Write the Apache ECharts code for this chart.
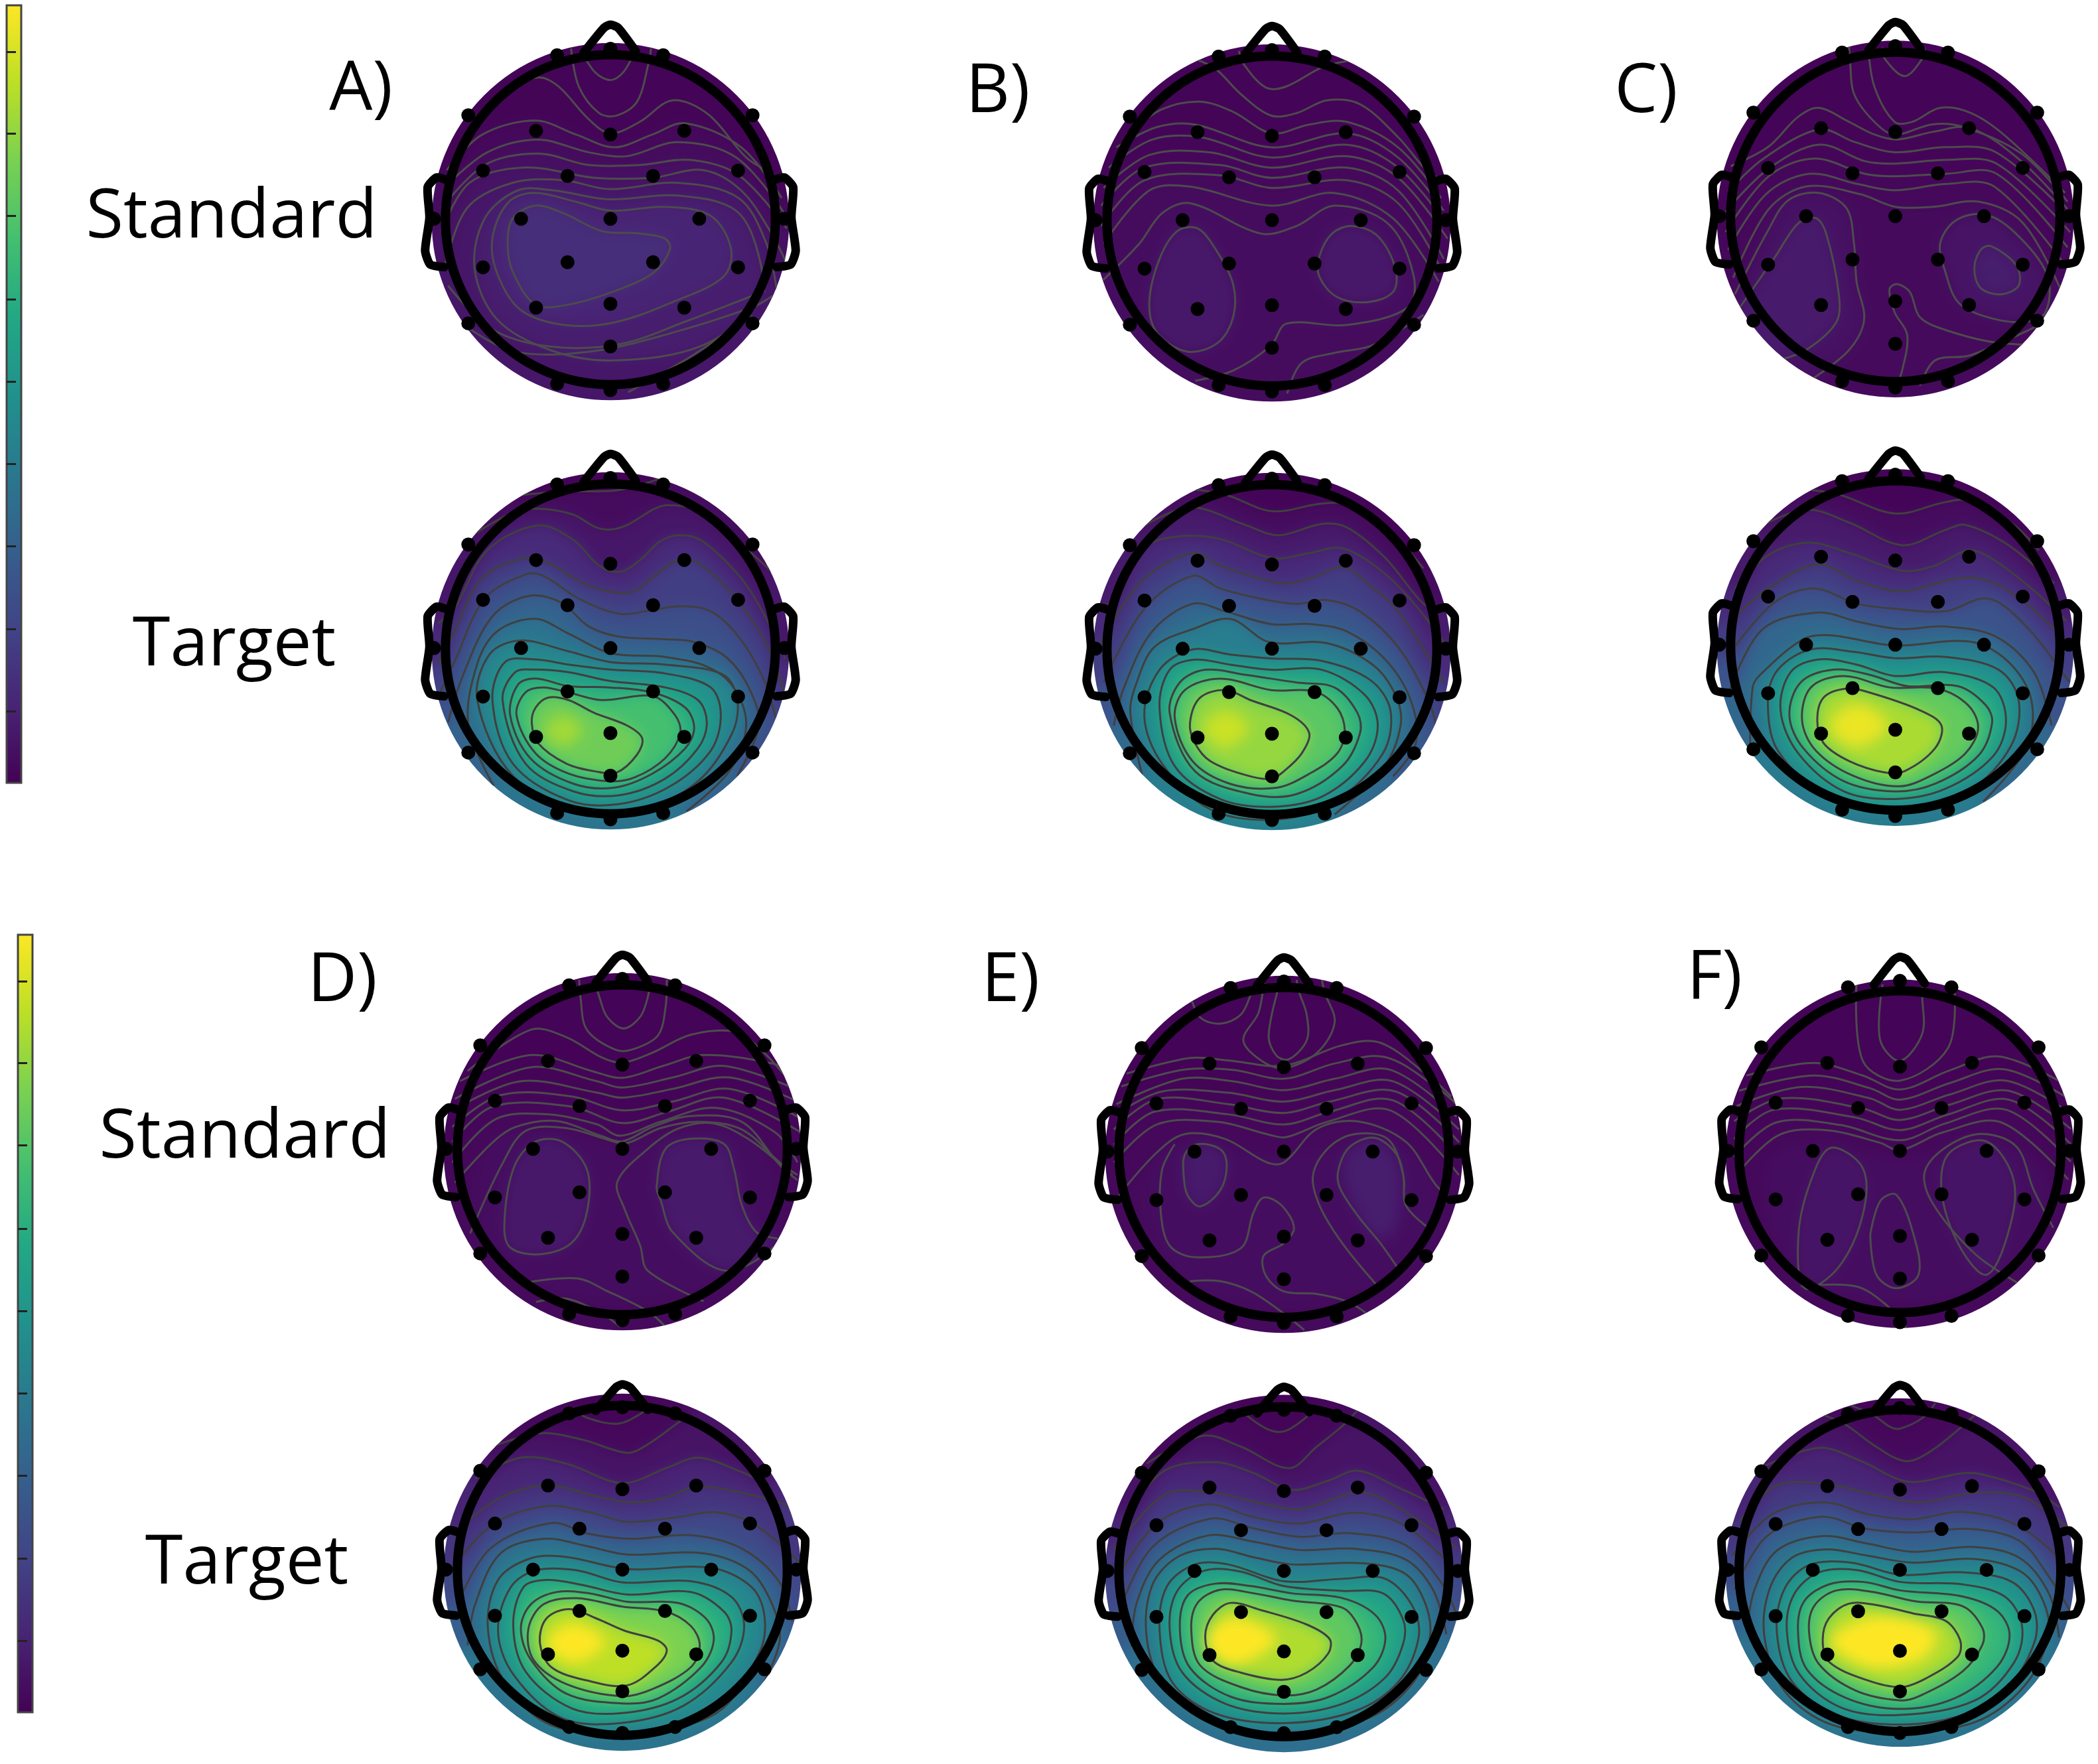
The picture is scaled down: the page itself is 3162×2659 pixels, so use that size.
<!DOCTYPE html>
<html>
<head>
<meta charset="UTF-8">
<title>Topographic maps</title>
<script src="https://cdn.jsdelivr.net/npm/echarts@6/dist/echarts.min.js"></script>
<style>
html,body{margin:0;padding:0;background:#fff}
#chart{width:3162px;height:2659px}
/* the colour fills sit on their own canvas layer, softened into a smooth map */
#chart canvas[data-zr-dom-id="zr_0"]{filter:blur(10px)}
</style>
</head>
<body>
<div id="chart"></div>
<script>
// contour format: [level, x0,y0, x1,y1, ...] in head units (head outline radius = 650)
// level 0 = line only, negative level = fill only (no line)
var targetA = [
  [.03,-400,600,-190,620,0,622,100,640,220,680],
  [.06,-620,400,-400,530,-300,552,-150,530,-60,480,0,470,70,490,170,550,225,566,330,550,470,450,640,300],
  [.12,-680,100,-615,158,-485,388,-285,486,-145,428,-45,328,35,303,115,348,195,423,275,448,365,423,515,278,615,118,690,-40],
  [.18,-680,-60,-620,58,-505,278,-335,358,-245,338,-105,258,15,223,95,228,175,288,275,353,355,333,495,198,625,-2,680,-160],
  [.24,-670,-170,-615,-52,-495,198,-335,293,-265,288,-125,198,35,138,165,153,275,168,395,148,505,48,605,-122,650,-270],
  [.31,-640,-290,-580,-102,-465,128,-325,208,-195,183,-85,88,35,48,215,38,325,28,455,-32,545,-152,585,-302,500,-500],
  [.38,-460,-540,-560,-300,-525,-60,-445,70,-295,118,-165,60,0,-17,215,-32,385,-72,485,-152,535,-302,470,-480,300,-640],
  [.45,-525,-200,-475,-20,-355,33,-165,-10,0,-52,215,-62,445,-102,500,-200,480,-332,345,-522,115,-640,-115,-640,-385,-500],
  [.51,-465,-202,-415,-52,-295,-42,-165,-62,0,-82,215,-97,395,-152,435,-262,395,-402,235,-542,35,-612,-165,-597,-385,-452],
  [.57,-425,-202,-375,-92,-295,-82,-165,-92,0,-127,215,-152,345,-202,380,-292,345,-392,215,-512,35,-577,-145,-562,-335,-452],
  [.63,-395,-262,-365,-142,-295,-117,-165,-147,-5,-152,165,-172,295,-232,330,-312,295,-392,165,-492,15,-547,-145,-532,-315,-432],
  [.70,-370,-262,-335,-172,-265,-152,-165,-172,-35,-202,168,-187,255,-262,275,-332,215,-432,95,-507,-5,-522,-165,-492,-295,-412],
  [.78,-310,-292,-295,-232,-245,-192,-165,-202,-65,-252,65,-302,125,-352,105,-417,25,-487,-65,-482,-175,-452,-285,-372],
  [-.86,-260,-320,-185,-260,-110,-320,-185,-385]
];
var targetB = [
  [.03,-303,630,-183,610,0,545,197,575,297,570,477,450,597,320],
  [.07,-563,450,-423,530,-303,560,-103,490,27,450,197,495,297,480,447,360,597,180,657,160],
  [.12,-653,160,-503,400,-373,445,-203,435,0,360,147,380,267,400,377,350,517,230,677,30],
  [.18,-673,30,-513,270,-313,380,-203,330,-83,290,57,260,177,290,282,325,377,260,497,150,677,-130],
  [.26,-663,-130,-503,160,-313,290,-203,240,-43,200,97,180,217,195,347,150,497,10,617,-200,647,-300],
  [.34,-623,-300,-583,-150,-473,70,-313,180,-183,150,-3,100,157,100,297,70,447,-40,547,-200,567,-370,477,-500],
  [.42,-503,-530,-558,-250,-533,-130,-463,10,-313,80,-163,120,-13,30,217,25,397,-60,487,-180,507,-300,437,-470,247,-650],
  [.50,-503,-260,-443,-80,-313,0,-163,-20,-3,-35,197,-45,387,-120,467,-240,437,-410,247,-600,17,-670,-243,-630,-433,-450],
  [.58,-443,-230,-403,-80,-303,-40,-163,-60,-3,-80,197,-80,367,-180,417,-300,367,-440,197,-580,-3,-620,-203,-590,-383,-460],
  [.66,-403,-250,-363,-130,-263,-80,-103,-100,97,-130,247,-150,337,-250,347,-330,277,-460,97,-570,-83,-570,-303,-480],
  [.74,-383,-270,-343,-160,-203,-115,-3,-160,167,-165,257,-230,287,-320,257,-410,147,-490,17,-545,-163,-530,-313,-440],
  [.84,-323,-290,-283,-190,-183,-160,-83,-200,77,-260,147,-330,117,-410,47,-480,-3,-510,-103,-495,-243,-440,-303,-370],
  [-.92,-270,-310,-183,-240,-90,-310,-183,-390]
];
var targetC = [
  [.03,-353,615,-223,595,0,520,197,565,297,570,467,475,567,375],
  [.07,-563,455,-353,535,-183,485,27,395,197,455,277,475,447,395,627,245],
  [.12,-633,225,-503,355,-343,405,-183,365,27,295,157,315,287,375,377,345,537,225,677,95],
  [.18,-663,85,-503,225,-303,320,-153,255,27,215,247,265,367,255,517,165,687,5],
  [.25,-663,-45,-483,165,-323,225,-153,165,-3,145,197,135,367,185,517,75,687,-145],
  [.33,-653,-175,-523,65,-303,130,-153,95,17,65,197,75,397,35,547,-105,617,-315],
  [.41,-573,-425,-563,-165,-533,-115,-363,25,-253,40,-3,0,297,15,447,-65,537,-215,517,-405,347,-615],
  [.50,-503,-215,-463,-95,-333,-15,-163,-25,-3,-50,197,-45,407,-95,487,-215,457,-395,297,-565,-3,-645,-243,-615,-463,-415],
  [.58,-453,-255,-413,-105,-303,-55,-153,-75,-3,-120,197,-105,387,-165,437,-295,387,-435,197,-565,-3,-605,-203,-575,-383,-425],
  [.67,-418,-275,-373,-145,-243,-95,-103,-115,47,-160,247,-160,357,-235,382,-305,327,-435,157,-545,-3,-575,-203,-535,-363,-405],
  [.76,-368,-295,-333,-165,-203,-120,-23,-165,167,-170,287,-235,327,-325,277,-425,157,-505,17,-555,-163,-515,-313,-415],
  [.87,-308,-295,-283,-205,-193,-170,-103,-185,97,-255,182,-315,157,-405,37,-495,-43,-500,-183,-455,-283,-385],
  [-.97,-260,-315,-153,-230,-30,-315,-153,-400]
];
var targetD = [
  [.02,-180,660,-140,630,-20,605,70,645,100,680],
  [.05,-540,500,-330,565,-160,540,20,485,100,520,220,610,260,640],
  [.10,-580,380,-400,465,-220,440,0,360,180,425,300,465,460,410,560,360],
  [.15,-650,170,-480,300,-293,350,-80,300,40,280,170,300,290,345,470,320,650,270],
  [.22,-670,10,-510,190,-300,265,-130,240,20,200,220,220,370,240,520,190,700,30],
  [.30,-650,-140,-520,90,-280,195,-130,150,40,130,270,145,470,90,620,-50,670,-210],
  [.38,-610,-310,-580,-140,-480,70,-310,130,-140,100,20,65,320,70,500,0,590,-140,620,-290,550,-480],
  [.46,-530,-240,-490,-40,-360,50,-220,55,20,5,350,10,510,-70,560,-190,540,-340,370,-590,20,-670,-280,-640,-460,-470],
  [.54,-490,-250,-440,-70,-340,0,-180,0,0,-50,270,-45,430,-110,480,-230,430,-380,240,-560,0,-630,-240,-610,-430,-430],
  [.62,-430,-230,-390,-70,-300,-40,-160,-60,20,-100,270,-90,400,-170,430,-250,390,-380,220,-530,0,-590,-200,-570,-380,-420],
  [.70,-400,-240,-360,-140,-260,-90,-130,-95,20,-130,220,-135,330,-200,360,-290,310,-400,140,-530,0,-550,-220,-510,-360,-370],
  [.80,-370,-240,-310,-140,-180,-115,0,-150,170,-170,270,-230,305,-310,270,-400,120,-490,0,-520,-220,-470,-350,-370],
  [.90,-325,-300,-300,-200,-210,-160,-100,-200,10,-250,140,-290,175,-330,140,-390,20,-475,-140,-455,-280,-400],
  [-1,-300,-300,-190,-220,-70,-300,-190,-380]
];
var targetE = [
  [.02,-170,670,-70,595,0,583,80,635,130,690],
  [.05,-540,450,-320,565,-170,520,20,430,130,520,230,605,290,670],
  [.10,-620,240,-470,420,-270,455,-120,410,30,340,180,380,290,420,450,350,630,260],
  [.16,-670,90,-470,320,-290,330,-70,280,70,260,290,330,430,280,680,100],
  [.22,-660,-30,-500,200,-300,280,-130,230,60,200,280,245,480,190,690,-10],
  [.29,-650,-170,-520,100,-290,220,-120,180,60,145,260,160,480,110,630,-60,680,-180],
  [.36,-600,-310,-580,-130,-490,50,-300,150,-120,125,60,90,280,95,480,50,590,-80,640,-260],
  [.43,-540,-280,-520,-60,-420,60,-270,95,-120,60,30,30,310,35,480,-10,560,-140,575,-280,510,-460,330,-610,0,-670,-290,-630,-470,-480],
  [.50,-490,-240,-460,-60,-350,30,-220,30,0,-40,230,-30,400,-30,510,-150,530,-280,450,-460,280,-580,0,-630,-270,-590,-440,-460],
  [.58,-450,-240,-420,-80,-310,5,-170,0,0,-60,230,-80,390,-90,470,-200,470,-300,400,-440,230,-550,0,-590,-230,-550,-400,-420],
  [.66,-410,-240,-380,-100,-270,-50,-130,-60,30,-90,230,-110,360,-180,400,-280,350,-400,180,-520,0,-550,-210,-520,-370,-400],
  [.75,-365,-240,-340,-130,-250,-75,-120,-90,30,-120,230,-150,290,-220,305,-300,260,-390,130,-490,0,-515,-170,-480,-330,-390],
  [.88,-310,-270,-280,-180,-210,-130,-90,-160,90,-220,180,-280,175,-340,90,-420,-10,-450,-170,-420,-280,-370],
  [-1,-310,-290,-200,-190,-30,-280,-200,-390]
];
var targetF = [
  [.02,-197,683,-107,643,-37,593,3,588,93,633,143,693],
  [.05,-367,663,-227,608,-97,513,23,453,123,493,253,598,323,663],
  [.10,-567,423,-327,508,-157,453,33,368,253,403,333,398,533,333,643,263],
  [.16,-647,203,-497,353,-297,358,-97,313,83,283,303,323,503,303,683,173],
  [.23,-677,63,-517,233,-307,283,-127,233,53,213,253,243,483,183,693,3],
  [.30,-667,-77,-537,143,-317,223,-137,173,63,158,283,173,483,123,603,-27,693,-177],
  [.37,-617,-237,-587,-77,-497,83,-317,143,-137,113,53,78,293,98,483,53,603,-97,643,-277],
  [.44,-547,-277,-527,-77,-437,53,-297,88,-137,63,53,33,303,48,493,-7,583,-137,598,-277,503,-477,303,-627,3,-667,-277,-637,-467,-497],
  [.51,-497,-257,-467,-77,-367,23,-197,33,0,-17,253,-7,453,-47,543,-167,543,-297,433,-487,253,-597,3,-637,-257,-597,-437,-457],
  [.58,-457,-247,-427,-97,-327,-7,-177,3,3,-47,253,-57,423,-107,493,-227,463,-377,303,-537,3,-597,-237,-567,-407,-427],
  [.66,-412,-247,-387,-127,-287,-57,-147,-47,3,-82,253,-107,393,-167,443,-267,393,-397,223,-527,3,-572,-217,-527,-377,-407],
  [.75,-367,-257,-347,-147,-257,-82,-117,-87,63,-127,253,-147,333,-237,333,-307,253,-417,83,-517,3,-537,-177,-497,-327,-387],
  [.88,-312,-287,-287,-197,-207,-137,-97,-142,53,-177,183,-207,243,-287,233,-357,103,-447,3,-482,-137,-452,-287,-377],
  [-1,-280,-290,-100,-190,140,-250,100,-360,-120,-400]
];
var standardA = [
  [0,-115,665,-60,580,0,550,50,580,90,650],
  [0,-155,675,-125,525,-45,420,25,410,105,465,150,615,160,675],
  [.01,-545,385,-415,505,-285,560,-205,525,-85,395,0,340,115,385,245,470,385,415,535,245,635,185],
  [.02,-645,195,-505,335,-295,390,-135,335,15,285,165,335,295,380,515,285,675,85],
  [.03,-655,125,-485,265,-285,315,-85,265,65,250,265,305,495,245,685,25],
  [.04,-665,45,-495,215,-285,260,-85,215,115,215,315,235,505,175,695,-35],
  [.05,-665,-45,-555,145,-335,205,-65,165,165,165,365,195,515,115,635,-55,695,-175],
  [.06,-655,-195,-565,45,-385,145,-185,155,-5,120,265,145,505,85,615,-95,655,-275],
  [.08,-535,-195,-495,5,-365,115,-225,115,-5,80,265,95,495,35,585,-145,585,-315,365,-495,15,-555,-235,-515,-445,-395],
  [.10,-465,-75,-405,65,-305,105,-135,70,0,35,215,50,395,15,475,-115,445,-225,245,-325,15,-405,-185,-415,-355,-355,-445,-215],
  [.13,-405,-95,-385,5,-295,55,-185,25,-35,-45,115,-55,215,-75,235,-115,175,-205,35,-275,-165,-335,-295,-335,-385,-205],
  [0,-640,-260,-470,-430,-240,-500,40,-490,300,-400,610,-280],
  [0,-570,-420,-380,-520,-80,-520,230,-450,560,-345,640,-300],
  [0,70,-680,300,-550,560,-380]
];
var standardB = [
  [0,-130,670,-113,620,-23,525,57,530,197,605,297,630],
  [0,-310,640,-223,600,-123,500,-3,415,97,425,217,475,347,460,497,330,617,190,660,170],
  [.01,-573,340,-433,440,-283,470,-153,430,0,345,147,380,297,390,497,290,667,90],
  [.012,-613,290,-453,370,-303,380,-3,290,297,345,497,250,677,40],
  [.015,-643,210,-473,320,-283,330,-3,250,297,300,497,210,687,-10],
  [.018,-663,130,-483,260,-243,270,-3,210,297,255,497,170,692,-70],
  [.02,-673,60,-503,210,-203,220,-3,170,297,210,497,120,677,-150],
  [.025,-673,-20,-503,160,-203,180,-3,130,297,160,497,70,667,-190],
  [.03,-663,-90,-483,120,-323,135,-3,60,247,110,477,10,657,-240],
  [.035,-673,-240,-523,-90,-433,30,-323,70,-43,-50,97,-20,247,60,457,-10,557,-210,537,-340,297,-410,57,-405,-3,-490,-153,-590,-303,-630],
  [.065,-483,-320,-443,-150,-373,-40,-293,-30,-223,-110,-153,-250,-153,-380,-213,-480,-333,-515,-453,-440],
  [.065,187,-140,237,-50,317,-20,417,-60,487,-190,477,-280,377,-320,257,-300,187,-220],
  [0,60,-680,117,-560,247,-520,397,-490,597,-370]
];
var standardC = [
  [0,-50,668,-43,625,37,555,107,625,115,670],
  [0,-183,680,-178,605,-163,485,-83,375,-3,325,147,365,267,355,497,250,680,60],
  [0,-108,680,-83,515,-3,375,67,375,177,430,297,410,427,325,670,95],
  [.01,-650,200,-503,275,-383,395,-303,430,-183,375,-83,325,7,305,147,335,297,350,497,220,680,30],
  [.012,-660,100,-520,230,-300,345,-160,295,-3,255,197,275,397,255,690,0],
  [.015,-670,20,-500,190,-300,285,-120,220,-3,210,200,225,400,210,690,-60],
  [.018,-670,-60,-500,160,-320,230,-120,170,-3,160,200,170,400,170,680,-120],
  [.02,-660,-130,-510,90,-340,170,-150,130,0,105,200,130,390,120,670,-190],
  [.025,-640,-240,-500,30,-350,120,-140,90,0,40,150,40,330,60,500,-20,650,-280],
  [.045,-633,-305,-503,-55,-423,65,-303,95,-193,35,-163,-105,-153,-255,-123,-405,-183,-525,-323,-635],
  [.07,-633,-385,-473,-155,-383,-25,-313,-5,-273,-65,-223,-305,-233,-415,-353,-525,-463,-565],
  [.05,177,-105,237,-15,352,10,470,-60,600,-230,590,-380,497,-415,347,-390,247,-335,197,-215],
  [.08,312,-205,337,-130,377,-115,477,-190,487,-270,417,-305,337,-280],
  [0,0,-675,27,-605,47,-465,-3,-375,-23,-285,7,-265,57,-295,97,-395,197,-445,397,-495,637,-505],
  [0,97,-665,157,-565,297,-545,580,-420]
];
var standardD = [
  [0,-110,670,-90,600,-60,523,5,478,70,523,100,600,110,670],
  [0,-170,670,-165,600,-140,473,-30,395,40,395,140,450,170,560,175,670],
  [.005,-610,310,-360,473,-220,443,-80,363,0,343,120,383,270,453,450,463,560,380,650,280],
  [.008,-640,270,-360,373,-120,310,0,283,160,330,320,373,590,340,680,300],
  [.01,-660,200,-360,325,-100,270,0,245,200,285,400,330,680,240],
  [.012,-660,160,-400,270,-100,225,0,205,200,240,420,285,690,190],
  [.015,-670,90,-480,215,-200,210,0,155,200,190,420,240,690,130],
  [.018,-670,30,-510,170,-200,170,0,105,180,150,400,205,700,70],
  [.02,-670,-50,-500,120,-300,140,-100,100,-10,55,150,110,370,165,600,70,690,-50],
  [.025,-660,-130,-510,30,-420,90,-260,113,-80,53,0,33,120,90,270,133,470,110,620,-60,690,-120],
  [0,-600,-330,-470,-50,-380,75,-220,85,-60,40,15,25,150,85,300,110,470,80,620,-50,690,-100],
  [0,670,-100,510,33,360,103,220,83,100,3,-20,-127,10,-237,70,-377,100,-477,320,-597],
  [-.035,-550,-300,-500,50,0,20,500,50,600,-300,300,-550,-300,-550],
  [.065,-465,-297,-430,-77,-350,28,-240,33,-140,-77,-140,-247,-200,-367,-320,-412,-440,-387],
  [.07,135,-147,170,3,270,43,400,23,440,-77,470,-217,530,-327,620,-360,410,-477,200,-327,150,-197],
  [0,-400,-527,-180,-507,-60,-557,100,-637,170,-697],
  [0,-340,-600,-220,-587,-80,-647,-10,-697]
];
var standardE = [
  [0,-370,622,-330,532,-250,507,-170,542,-130,622,-120,652],
  [0,-15,670,-60,462,-30,382,20,367,90,442,90,542,60,632,50,680],
  [0,-80,670,-100,550,-160,442,-90,362,0,332,130,392,200,512,160,632,150,680],
  [.005,-620,310,-370,372,-220,362,0,342,230,422,380,432,580,292,660,220],
  [.008,-640,260,-400,325,-200,325,0,290,200,350,400,375,610,250,680,190],
  [.01,-660,190,-400,290,-200,280,0,245,200,290,420,325,680,140],
  [.012,-660,150,-480,240,-220,235,0,200,200,245,430,280,690,90],
  [.015,-670,90,-500,210,-220,190,0,155,180,200,440,240,690,40],
  [.018,-670,30,-510,160,-220,150,0,110,180,160,430,205,690,-20],
  [.02,-670,-40,-500,110,-260,120,-60,70,10,60,170,120,420,165,690,-90],
  [.025,-650,-170,-500,0,-390,72,-230,52,-70,-38,0,-40,130,92,290,122,480,42,600,-130,680,-200],
  [-.035,-520,-300,-480,0,0,-20,500,0,600,-300,300,-550,-300,-550],
  [0,-430,32,-480,-68,-485,-238,-450,-368,-350,-413,-170,-378,-120,-238,-80,-178,-10,-208,40,-298,0,-358,-80,-408,-70,-488,0,-548,130,-558,250,-588,330,-638],
  [.07,-395,-88,-390,-8,-340,32,-250,12,-225,-48,-250,-148,-330,-213,-380,-168],
  [-.08,230,-60,270,20,360,50,440,-20,460,-140,440,-300,380,-340,290,-240],
  [0,370,-528,230,-358,140,-208,115,-88,180,22,280,72,410,52,470,-88,480,-208,570,-298],
  [0,450,-458,380,-358,290,-248,220,-138,215,-68,260,22,360,57,450,-18,475,-138],
  [0,-370,-508,-250,-508,-130,-548,-10,-628,80,-700]
];
var standardF = [
  [0,-70,660,-80,440,0,358,90,465,90,620,95,670],
  [0,-175,670,-150,358,0,280,195,410,220,650],
  [.005,-620,300,-350,350,-150,300,0,245,200,320,400,375,660,270],
  [.008,-650,240,-350,300,-120,250,0,205,200,270,420,325,680,210],
  [.01,-660,180,-400,255,-120,210,0,165,200,225,430,280,690,150],
  [.012,-670,120,-480,210,-150,170,0,125,200,185,440,240,690,90],
  [.015,-670,50,-510,165,-180,135,0,85,190,145,440,205,690,30],
  [.018,-670,-20,-500,115,-240,105,0,45,180,110,430,165,690,-40],
  [.022,-660,-90,-490,65,-300,85,-80,35,0,5,170,75,410,115,680,-110],
  [-.035,-520,-300,-480,0,0,-30,500,0,600,-300,300,-550,-300,-550],
  [.055,-360,-115,-280,15,-150,-65,-150,-248,-250,-458,-385,-538,-410,-327],
  [.055,195,-10,350,40,460,-115,435,-327,350,-485,245,-380,170,-170],
  [0,-120,-327,-80,-195,-15,-170,55,-327,75,-485,-15,-538,-95,-485,-120,-327],
  [0,480,-520,300,-400,130,-200,100,-80,190,20,330,70,470,20,540,-150,620,-300],
  [0,-400,-530,-180,-530,-60,-600,30,-700]
];

var electrodeX = [-293,0,291,-502,-169,168,503,-352,0,350,-502,-169,168,503,-293,0,291,0,-560,560,-560,560,-210,208,0,-210,208,0,-695,685];
var electrodeY = [350,335,350,193,172,172,193,3,3,3,-188,-168,-168,-188,-347,-332,-347,-500,411,411,-409,-409,648,648,673,-647,-647,-672,3,3];

var noseLine = [[-105,658],[-25,756],[0,768],[30,756],[100,663]];
var earLine = [[-650,158],[-685,166],[-720,128],[-713,8],[-730,-122],[-710,-177],[-655,-187]];

var viridis = ['#440154','#482475','#414487','#355f8d','#2a788e','#21918c','#22a884','#44bf70','#7ad151','#bddf26','#fde725'];
var barTicks = [.092,.198,.304,.41,.516,.622,.729,.835,.94];

var heads = [
  {contours: standardA, cx: 920, cy: 331, line: '#4c4c4c'},
  {contours: standardB, cx: 1917, cy: 333, line: '#4c4c4c'},
  {contours: standardC, cx: 2857, cy: 327, line: '#4c4c4c'},
  {contours: targetA, cx: 920, cy: 978, line: '#404040'},
  {contours: targetB, cx: 1917, cy: 979, line: '#404040'},
  {contours: targetC, cx: 2857, cy: 973, line: '#404040'},
  {contours: standardD, cx: 938, cy: 1733, line: '#4c4c4c'},
  {contours: standardE, cx: 1935, cy: 1737, line: '#4c4c4c'},
  {contours: standardF, cx: 2871, cy: 1736, line: '#4c4c4c'},
  {contours: targetD, cx: 938, cy: 2381, line: '#404040'},
  {contours: targetE, cx: 1935, cy: 2385, line: '#404040'},
  {contours: targetF, cx: 2871, cy: 2382, line: '#404040'}
];
var colorBars = [
  {left: 10, top: 8, width: 22, height: 1172},
  {left: 27, top: 1409, width: 22, height: 1172}
];
var labels = [
  ['A)', 544, 136], ['B)', 1504, 140], ['C)', 2481, 140],
  ['Standard', 349, 329], ['Target', 353, 974],
  ['D)', 516, 1480], ['E)', 1523, 1480], ['F)', 2584, 1476],
  ['Standard', 369, 1716], ['Target', 372, 2358]
];

function colorOf(level) {
  return echarts.color.lerp(level, viridis);
}

function toPoints(contour) {
  var pts = [];
  for (var i = 1; i < contour.length; i += 2) {
    pts.push([contour[i], contour[i + 1]]);
  }
  return pts;
}

function outward(p) {
  var r = Math.hypot(p[0], p[1]);
  return [p[0] * 1100 / r, p[1] * 1100 / r];
}

function isOpen(contour) {
  return contour[0] === 0 || Math.hypot(contour[1], contour[2]) > 660;
}

// colour bands, on the blurred layer
function renderHeadFill(head) {
  return function (params, api) {
    var c = api.coord([0, -8]);
    var r = api.coord([704, 0])[0] - api.coord([0, 0])[0] + 24;
    var fills = [{type: 'circle', shape: {cx: c[0], cy: c[1], r: r + 2}, style: {fill: colorOf(.008)}}];
    head.contours.forEach(function (contour) {
      var level = contour[0];
      if (level === 0) {
        return;
      }
      var pts = toPoints(contour);
      if (isOpen(contour)) {
        pts.push(outward(pts[pts.length - 1]), [1100, -1100], [-1100, -1100], outward(pts[0]));
      }
      fills.push({
        type: 'polygon',
        shape: {points: pts.map(function (p) { return api.coord(p); }), smooth: .34},
        style: {fill: colorOf(Math.abs(level))}
      });
    });
    return {
      type: 'group',
      clipPath: {type: 'circle', shape: {cx: c[0], cy: c[1], r: r}},
      children: fills
    };
  };
}

// contour lines and the white ring that gives the disc a crisp edge
function renderHeadLines(head) {
  return function (params, api) {
    var c = api.coord([0, -8]);
    var r = api.coord([704, 0])[0] - api.coord([0, 0])[0];
    var lines = [];
    head.contours.forEach(function (contour) {
      if (contour[0] < 0) {
        return;
      }
      lines.push({
        type: isOpen(contour) ? 'polyline' : 'polygon',
        shape: {points: toPoints(contour).map(function (p) { return api.coord(p); }), smooth: .34},
        style: {fill: 'none', stroke: head.line, lineWidth: 3}
      });
    });
    return {
      type: 'group',
      children: [
        {type: 'circle', shape: {cx: c[0], cy: c[1], r: r + 35}, style: {fill: 'none', stroke: '#fff', lineWidth: 70}},
        {type: 'group', clipPath: {type: 'circle', shape: {cx: c[0], cy: c[1], r: r}}, children: lines}
      ]
    };
  };
}

function renderHeadOutline(params, api) {
  var c = api.coord([0, 0]);
  var r = api.coord([650, 0])[0] - c[0];
  var outline = {fill: 'none', stroke: '#000', lineWidth: 13, lineCap: 'round', lineJoin: 'round'};
  function path(list) {
    return {type: 'polyline', shape: {points: list.map(function (p) { return api.coord(p); }), smooth: .2}, style: outline};
  }
  return {
    type: 'group',
    children: [
      {type: 'circle', shape: {cx: c[0], cy: c[1], r: r}, style: {fill: 'none', stroke: '#000', lineWidth: 14}},
      path(noseLine),
      path(earLine),
      path(earLine.map(function (p) { return [-p[0], p[1]]; }))
    ]
  };
}

function renderBar(params, api) {
  var a = api.coord([0, 1]);
  var b = api.coord([1, 0]);
  var stops = viridis.map(function (col, i) {
    return {offset: 1 - i / (viridis.length - 1), color: col};
  }).reverse();
  return {
    type: 'rect',
    shape: {x: a[0], y: a[1], width: b[0] - a[0], height: b[1] - a[1]},
    style: {fill: new echarts.graphic.LinearGradient(0, 0, 0, 1, stops), stroke: '#444', lineWidth: 3}
  };
}

var grid = [], xAxis = [], yAxis = [], series = [];

heads.forEach(function (head, i) {
  grid.push({left: head.cx - 306, top: head.cy - 306, width: 612, height: 612});
  xAxis.push({type: 'value', gridIndex: i, min: -800, max: 800, show: false});
  yAxis.push({type: 'value', gridIndex: i, min: -800, max: 800, show: false});
  series.push({
    type: 'custom', xAxisIndex: i, yAxisIndex: i, zlevel: 0, silent: true,
    renderItem: renderHeadFill(head), data: [[0, 0]]
  });
  series.push({
    type: 'custom', xAxisIndex: i, yAxisIndex: i, zlevel: 1, z: 2, silent: true,
    renderItem: renderHeadLines(head), data: [[0, 0]]
  });
  series.push({
    type: 'scatter', xAxisIndex: i, yAxisIndex: i, zlevel: 1, z: 3, silent: true,
    symbolSize: 21, itemStyle: {color: '#000', opacity: 1},
    data: electrodeX.map(function (x, k) { return [x, electrodeY[k]]; })
  });
  series.push({
    type: 'custom', xAxisIndex: i, yAxisIndex: i, zlevel: 1, z: 4, silent: true,
    renderItem: renderHeadOutline, data: [[0, 0]]
  });
});

colorBars.forEach(function (bar, k) {
  var i = heads.length + k;
  grid.push({left: bar.left, top: bar.top, width: bar.width, height: bar.height});
  xAxis.push({type: 'value', gridIndex: i, min: 0, max: 1, show: false});
  yAxis.push({
    type: 'value', gridIndex: i, min: 0, max: 1, zlevel: 1, z: 10,
    axisLine: {show: false}, axisLabel: {show: false}, splitLine: {show: false},
    axisTick: {show: true, inside: true, length: 14, customValues: barTicks, lineStyle: {color: '#222', width: 3}}
  });
  series.push({
    type: 'custom', xAxisIndex: i, yAxisIndex: i, zlevel: 1, z: 2, silent: true,
    renderItem: renderBar, data: [[0, 0]]
  });
});

var myChart = echarts.init(document.getElementById('chart'));
myChart.setOption({
  animation: false,
  backgroundColor: '#fff',
  grid: grid,
  xAxis: xAxis,
  yAxis: yAxis,
  series: series,
  graphic: labels.map(function (l) {
    return {
      type: 'text', x: l[1], y: l[2], zlevel: 1, z: 20,
      style: {text: l[0], fill: '#000', font: '103px "Open Sans"', textAlign: 'center', textVerticalAlign: 'middle'}
    };
  })
});
</script>
</body>
</html>
